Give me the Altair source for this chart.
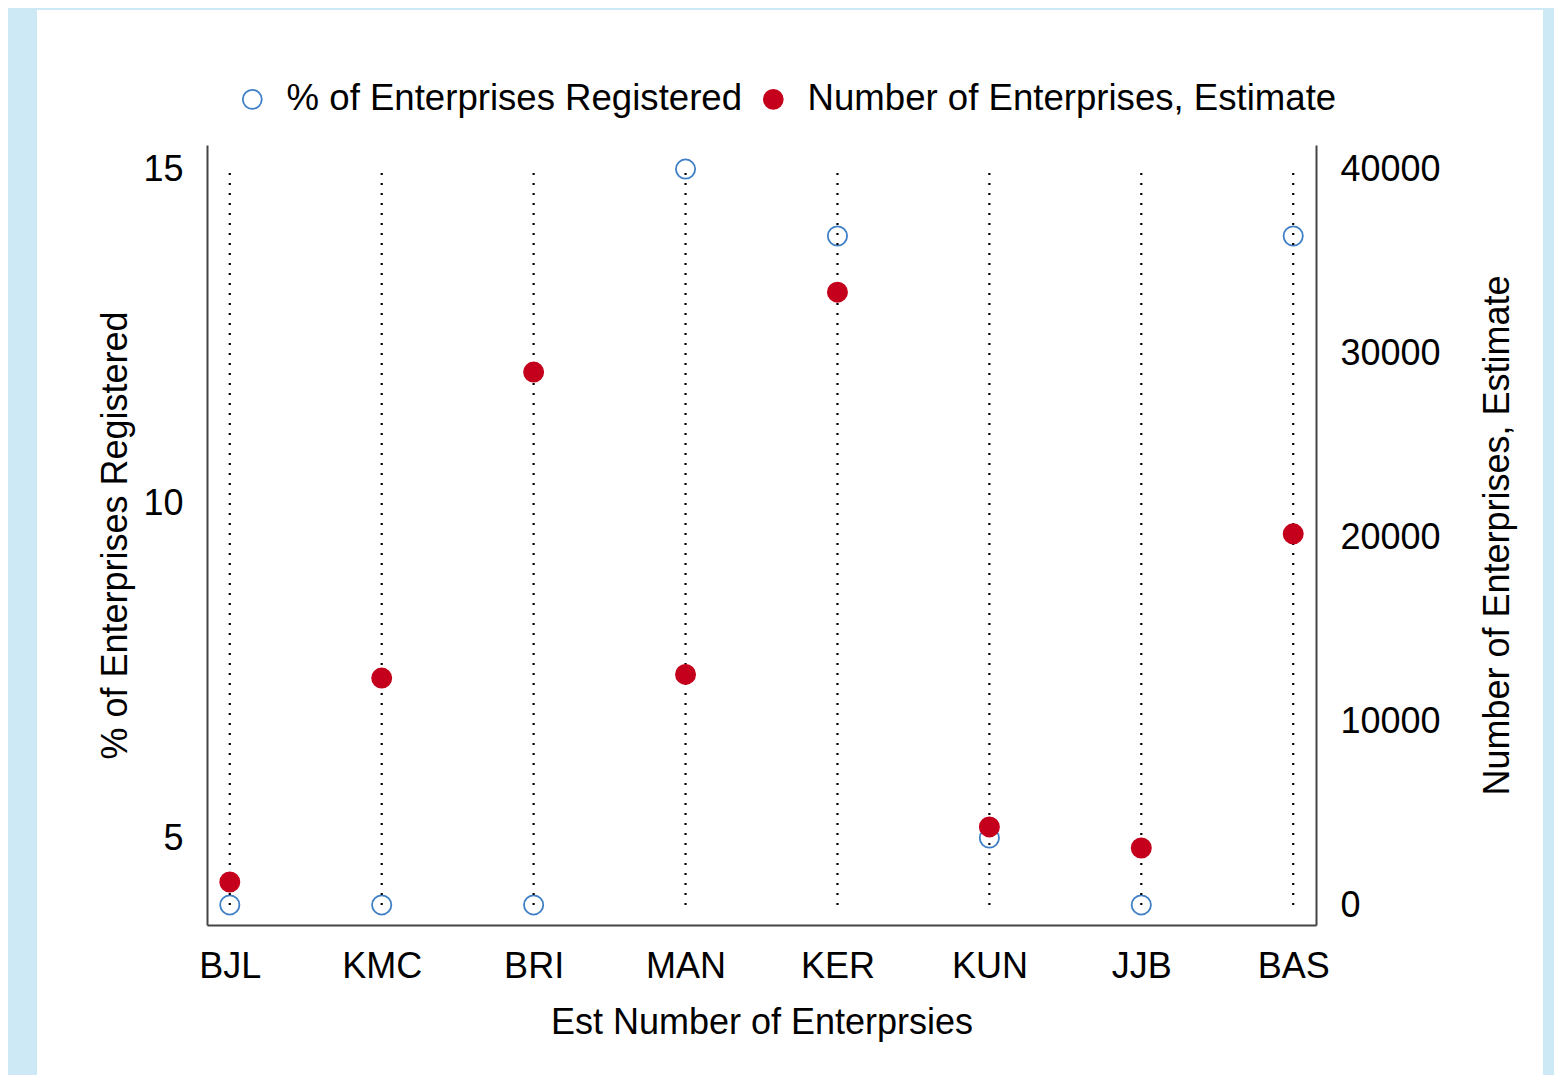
import altair as alt
import pandas as pd

# ---- data ----
cats = ["BJL", "KMC", "BRI", "MAN", "KER", "KUN", "JJB", "BAS"]
pct_registered = [4, 4, 4, 15, 14, 5, 4, 14]
num_enterprises = [1250, 12350, 29000, 12550, 33350, 4250, 3100, 20200]
stem_lo = [0, 0, 0, 0, 0, 0, 0, 0]
stem_hi = [40000, 40000, 40000, 40000, 40000, 40000, 40000, 40000]

series_names = ["% of Enterprises Registered", "Number of Enterprises, Estimate"]
left_ticks = [5, 10, 15]
right_ticks = [0, 10000, 20000, 30000, 40000]

df = pd.DataFrame({
    "cat": cats,
    "pct": pct_registered,
    "count": num_enterprises,
    "lo": stem_lo,
    "hi": stem_hi,
})

FONT = "Liberation Sans"
BLUE = "#3f7fc6"
RED = "#c5001c"

x_enc = alt.X(
    "cat:N",
    scale=alt.Scale(type="point", domain=cats, padding=0.15),
    axis=alt.Axis(title="Est Number of Enterprsies", labelAngle=0,
                  labelPadding=24, titlePadding=21, zindex=1),
)

stroke_enc = alt.Stroke("series:N", scale=alt.Scale(domain=series_names, range=[BLUE, RED]),
                        legend=alt.Legend(title=None))
fill_enc = alt.Fill("series:N", scale=alt.Scale(domain=series_names, range=["transparent", RED]),
                    legend=alt.Legend(title=None))

left_scale = alt.Scale(domain=[3.7, 15.36], nice=False, zero=False)
right_scale = alt.Scale(domain=[-1088, 41360], nice=False, zero=False)

right_axis = alt.Axis(
    title="Number of Enterprises, Estimate", orient="right", values=right_ticks,
    format="d", labelPadding=24, titlePadding=40, titleAngle=270, titleBaseline="top",
    zindex=1,
)

base = alt.Chart(df)

panel = base.mark_rect(color="white").encode(
    x=alt.value(-170), x2=alt.value(1336), y=alt.value(-135), y2=alt.value(970)
)

blue = base.transform_calculate(series="'% of Enterprises Registered'").mark_point(
    shape="circle", size=370, strokeWidth=1.8, opacity=1
).encode(
    x=x_enc,
    y=alt.Y("pct:Q", scale=left_scale,
            axis=alt.Axis(title="% of Enterprises Registered", orient="left",
                          values=left_ticks, labelPadding=24, titlePadding=8, zindex=1)),
    stroke=stroke_enc,
    fill=fill_enc,
)

stems = base.mark_rule(color="black", strokeDash=[2, 8], strokeWidth=2.2).encode(
    x=x_enc,
    y=alt.Y("lo:Q", scale=right_scale, axis=right_axis),
    y2="hi:Q",
)

red = base.transform_calculate(series="'Number of Enterprises, Estimate'").mark_point(
    shape="circle", size=380, strokeWidth=1.5, opacity=1
).encode(
    x=x_enc,
    y=alt.Y("count:Q", scale=right_scale, axis=right_axis),
    stroke=stroke_enc,
    fill=fill_enc,
)

chart = alt.layer(
    panel, blue, alt.layer(stems, red)
).resolve_scale(
    y="independent"
).properties(
    width=1109,
    height=780,
    autosize=alt.AutoSizeParams(type="none"),
    padding={"left": 199, "top": 137, "right": 238, "bottom": 150},
    background="#cde9f6",
).configure_view(
    stroke=None
).configure_scale(
    pointPadding=0.15
).configure_axis(
    labelFont=FONT, titleFont=FONT, labelFontSize=36, titleFontSize=36,
    titleFontWeight="normal", labelColor="black", titleColor="black",
    domainColor="#444444", domainWidth=2, ticks=False, tickSize=0, grid=False,
    zindex=1,
).configure_legend(
    orient="none", legendX=27, legendY=-64, direction="horizontal",
    labelFont=FONT, labelFontSize=36.6, labelColor="black",
    symbolType="circle", symbolSize=360, symbolStrokeWidth=1.8,
    labelOffset=16, columnPadding=12, padding=0, labelLimit=0,
)

chart.save("out.html", embed_options={"renderer": "svg", "actions": False})
